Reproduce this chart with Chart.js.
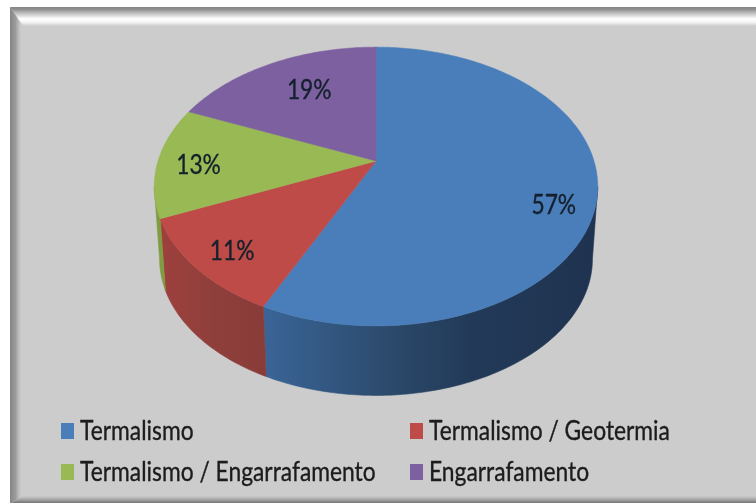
<!DOCTYPE html>
<html>
<head>
<meta charset="utf-8">
<style>
  html, body { margin: 0; padding: 0; background: #fff; }
  canvas { display: block; }
</style>
<script src="https://cdn.jsdelivr.net/npm/chart.js@4"></script>
</head>
<body>
<canvas id="pie3d" width="756" height="503"></canvas>
<script>
const categories = ["Termalismo", "Termalismo / Geotermia", "Termalismo / Engarrafamento", "Engarrafamento"];
const values = [57.1, 11.4, 12.9, 18.6];
const colors = ["#4a7ebb", "#be4b48", "#98b954", "#7d60a0"];
// wall shading, left to right
const wallColors = [
  [[0, "#3a6597"], [0.4, "#2b4869"], [0.62, "#223a58"], [1, "#1f3350"]],
  [[0, "#9e403d"], [0.5, "#8f3f3b"], [1, "#883c38"]],
  [[0, "#7f9c40"], [1, "#7f9c40"]],
  [[0, "#5f4a7c"], [1, "#5f4a7c"]]
];

const FONT = "Lato, 'Noto Sans', sans-serif";

// perspective of the disc
const tilt = 0.183, squash = 0.618, lowerWidth = 0.976, lowerSquash = 0.605, depth = 73;

function project(arc, f, a, lower) {
  const u = f * Math.cos(a), v = f * Math.sin(a), w = 1 - tilt * v;
  const R = arc.outerRadius;
  return {
    x: arc.x + R * (lower ? lowerWidth : 1) * u / w,
    y: arc.y + (lower ? depth : 0) + R * (lower ? lowerSquash : squash) * v / w
  };
}

function arcPoints(arc, start, end, lower) {
  const pts = [];
  const n = Math.max(2, Math.ceil(Math.abs(end - start) * 60));
  for (let i = 0; i <= n; i++) pts.push(project(arc, 1, start + (end - start) * i / n, lower));
  return pts;
}

function tracePts(ctx, pts, first) {
  pts.forEach((p, i) => { if (i === 0 && first) ctx.moveTo(p.x, p.y); else ctx.lineTo(p.x, p.y); });
}

const framePlugin = {
  id: 'frame',
  beforeDraw(chart) {
    const ctx = chart.ctx, W = chart.width, H = chart.height;
    const L = 10, T = 7, IL = 23, IT = 26, IB = 496;
    ctx.save();
    ctx.fillStyle = '#ffffff';
    ctx.fillRect(0, 0, W, H);
    ctx.fillStyle = '#cccccc';
    ctx.fillRect(L, T, W - L, H - T);

    // top bevel
    let g = ctx.createLinearGradient(0, T, 0, IT);
    g.addColorStop(0, '#858585');
    g.addColorStop(0.12, '#8f8f8f');
    g.addColorStop(0.35, '#c4c4c4');
    g.addColorStop(0.62, '#ffffff');
    g.addColorStop(0.8, '#f4f4f4');
    g.addColorStop(1, '#cccccc');
    ctx.fillStyle = g;
    ctx.beginPath();
    ctx.moveTo(L, T); ctx.lineTo(W, T); ctx.lineTo(W, IT); ctx.lineTo(IL, IT);
    ctx.closePath(); ctx.fill();

    // left bevel
    g = ctx.createLinearGradient(L, 0, IL - 2, 0);
    g.addColorStop(0, '#858585');
    g.addColorStop(0.5, '#9c9c9c');
    g.addColorStop(0.8, '#bdbdbd');
    g.addColorStop(1, '#cccccc');
    ctx.fillStyle = g;
    ctx.beginPath();
    ctx.moveTo(L, T); ctx.lineTo(IL, IT); ctx.lineTo(IL, IB); ctx.lineTo(L + 2, H); ctx.lineTo(L, H);
    ctx.closePath(); ctx.fill();

    // bottom bevel
    g = ctx.createLinearGradient(0, IB, 0, H);
    g.addColorStop(0, '#cccccc');
    g.addColorStop(0.5, '#a6a6a6');
    g.addColorStop(1, '#757575');
    ctx.fillStyle = g;
    ctx.beginPath();
    ctx.moveTo(IL, IB); ctx.lineTo(W, IB); ctx.lineTo(W, H); ctx.lineTo(L + 2, H);
    ctx.closePath(); ctx.fill();
    ctx.restore();
  }
};

// the arcs are laid out by Chart.js, only their outline is projected here
const disc3dPlugin = {
  id: 'disc3d',
  beforeDatasetDraw(chart, args) {
    const ctx = chart.ctx;
    const arcs = chart.getDatasetMeta(args.index).data;
    const first = arcs[0];
    const frontFrom = Math.asin(tilt), frontTo = Math.PI - frontFrom;
    ctx.save();

    // side wall
    arcs.forEach((arc, i) => {
      let a0 = Math.max(arc.startAngle, frontFrom), a1 = Math.min(arc.endAngle, frontTo);
      if (a1 <= a0) return;
      const top = arcPoints(arc, a0, a1, false), low = arcPoints(arc, a0, a1, true);
      const xs = top.concat(low).map(p => p.x);
      const g = ctx.createLinearGradient(Math.min(...xs), 0, Math.max(...xs), 0);
      wallColors[i].forEach(s => g.addColorStop(s[0], s[1]));
      ctx.fillStyle = g;
      ctx.strokeStyle = g;
      ctx.lineWidth = 0.6;
      ctx.beginPath();
      tracePts(ctx, top, true);
      tracePts(ctx, low.reverse(), false);
      ctx.closePath();
      ctx.fill();
      ctx.stroke();
    });

    // top face
    arcs.forEach((arc, i) => {
      ctx.fillStyle = colors[i];
      ctx.strokeStyle = colors[i];
      ctx.lineWidth = 0.5;
      ctx.beginPath();
      ctx.moveTo(first.x, first.y);
      tracePts(ctx, arcPoints(arc, arc.startAngle, arc.endAngle, false), false);
      ctx.closePath();
      ctx.fill();
      ctx.stroke();
    });
    ctx.restore();
    return false;
  }
};

const labelNudge = [[2, 20], [-4, 7], [-3, 4], [19, 9]];
const textScale = 0.845;

function drawText(ctx, text, x, y, size, align, color) {
  ctx.save();
  ctx.translate(x, y);
  ctx.scale(textScale, 1);
  ctx.font = size + "px " + FONT;
  ctx.textAlign = align;
  ctx.textBaseline = 'middle';
  ctx.fillStyle = color;
  ctx.strokeStyle = color;
  ctx.lineWidth = 0.35;
  ctx.filter = 'blur(0.4px)';
  ctx.fillText(text, 0, 0);
  ctx.strokeText(text, 0, 0);
  ctx.restore();
}

const textPlugin = {
  id: 'pieText',
  afterDatasetsDraw(chart) {
    const ctx = chart.ctx;
    const arcs = chart.getDatasetMeta(0).data;
    const total = values.reduce((s, v) => s + v, 0);
    arcs.forEach((arc, i) => {
      const p = project(arc, 0.8, (arc.startAngle + arc.endAngle) / 2, false);
      const pct = Math.round(values[i] / total * 100) + '%';
      drawText(ctx, pct, p.x + labelNudge[i][0], p.y + labelNudge[i][1], 27, 'center', '#14202c');
    });

    // legend in two columns
    const colX = [61, 410], rowY = [431, 472];
    categories.forEach((name, i) => {
      const x = colX[i % 2], y = rowY[Math.floor(i / 2)];
      ctx.fillStyle = colors[i];
      ctx.fillRect(x, y - 8, 13, 16);
      drawText(ctx, name, x + 19, y, 27, 'left', '#1c1c1c');
    });
  }
};

new Chart(document.getElementById("pie3d"), {
  type: 'pie',
  data: {
    labels: categories,
    datasets: [{
      data: values,
      backgroundColor: colors,
      borderWidth: 0,
      radius: 218
    }]
  },
  options: {
    responsive: false,
    animation: false,
    events: [],
    layout: { padding: { left: 0, right: 4, top: 0, bottom: 181 } },
    plugins: {
      legend: { display: false },
      title: { display: false },
      tooltip: { enabled: false }
    }
  },
  plugins: [framePlugin, disc3dPlugin, textPlugin]
});
</script>
</body>
</html>
